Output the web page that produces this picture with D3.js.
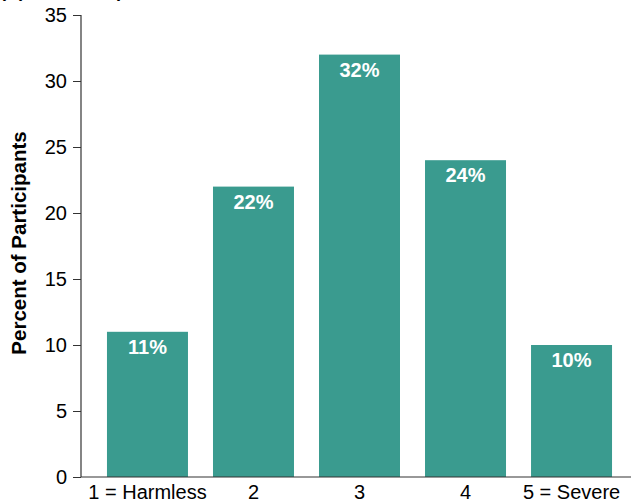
<!DOCTYPE html>
<html><head><meta charset="utf-8">
<script src="https://cdn.jsdelivr.net/npm/d3@7"></script>
<style>body{margin:0;background:#fff}svg{display:block}text{font-family:"Liberation Sans",Arial,Helvetica,sans-serif}</style>
</head><body>
<script>
const categories = ["1 = Harmless", "2", "3", "4", "5 = Severe"];
const values = [11, 22, 32, 24, 10];
const yTicks = [0, 5, 10, 15, 20, 25, 30, 35];
const yTitle = "Percent of Participants";
const panelTitle = "(A) Cannabis perceived harm";

const W = 631, H = 503;
const svg = d3.select("body").append("svg").attr("width", W).attr("height", H);

const y = d3.scaleLinear().domain([0, 35]).range([477, 15]);
const x = d3.scaleBand().domain(categories).range([81, 638]).paddingInner(0.236).paddingOuter(0.245);

svg.append("text").attr("x", 0).attr("y", -3).attr("font-size", 18).attr("font-weight", "bold")
  .attr("fill", "#000").text(panelTitle);

svg.selectAll("rect.bar").data(values).enter().append("rect")
  .attr("class", "bar")
  .attr("x", (d, i) => x(categories[i]))
  .attr("width", x.bandwidth())
  .attr("y", d => y(d))
  .attr("height", d => y(0) - y(d))
  .attr("fill", "#3a9b8f");

svg.selectAll("text.val").data(values).enter().append("text")
  .attr("class", "val")
  .attr("x", (d, i) => x(categories[i]) + x.bandwidth() / 2)
  .attr("y", d => y(d) + 22)
  .attr("text-anchor", "middle")
  .attr("font-size", 20).attr("font-weight", "bold").attr("fill", "#fff")
  .text(d => d + "%");

const yAxis = svg.append("g").attr("transform", "translate(81,0)")
  .call(d3.axisLeft(y).tickValues(yTicks).tickSize(8).tickPadding(6));
yAxis.select(".domain").attr("stroke", "#333").attr("stroke-width", 1.2).attr("d", "M0," + y(35) + "V" + y(0));
yAxis.selectAll(".tick line").attr("stroke", "#333");
yAxis.selectAll(".tick text").attr("font-size", 20).attr("fill", "#000")
  .attr("font-family", '"Liberation Sans",Arial,sans-serif');

const xAxis = svg.append("g").attr("transform", "translate(0," + y(0) + ")")
  .call(d3.axisBottom(x).tickSize(0).tickPadding(8));
xAxis.select(".domain").attr("stroke", "#333").attr("stroke-width", 1.2).attr("d", "M81,0H" + W);
xAxis.selectAll(".tick text").attr("font-size", 20).attr("fill", "#000")
  .attr("font-family", '"Liberation Sans",Arial,sans-serif');

svg.append("text")
  .attr("transform", "translate(26,243) rotate(-90)")
  .attr("text-anchor", "middle")
  .attr("font-size", 20.5).attr("font-weight", "bold").attr("fill", "#000")
  .text(yTitle);
</script>
</body></html>
